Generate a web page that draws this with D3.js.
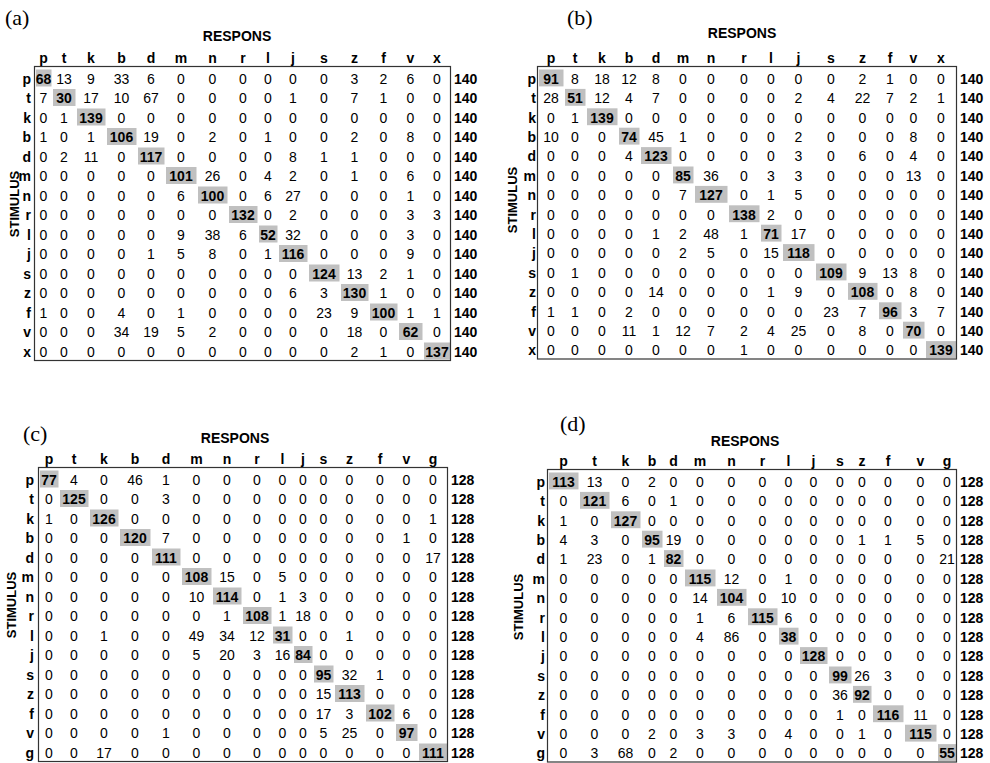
<!DOCTYPE html>
<html>
<head>
<meta charset="utf-8">
<script src="https://cdn.jsdelivr.net/npm/d3@7"></script>
<style>
  body { margin: 0; background: #fff; }
  svg text { font-family: "Liberation Sans", Arial, sans-serif; fill: #000; }
</style>
</head>
<body>
<div id="chart"></div>
<script>
// Stimulus / response phoneme sets
const phonemesAB = ["p", "t", "k", "b", "d", "m", "n", "r", "l", "j", "s", "z", "f", "v", "x"];
const phonemesCD = ["p", "t", "k", "b", "d", "m", "n", "r", "l", "j", "s", "z", "f", "v", "g"];

// Confusion counts, one row per stimulus
const matrixA = [
  [68, 13, 9, 33, 6, 0, 0, 0, 0, 0, 0, 3, 2, 6, 0],
  [7, 30, 17, 10, 67, 0, 0, 0, 0, 1, 0, 7, 1, 0, 0],
  [0, 1, 139, 0, 0, 0, 0, 0, 0, 0, 0, 0, 0, 0, 0],
  [1, 0, 1, 106, 19, 0, 2, 0, 1, 0, 0, 2, 0, 8, 0],
  [0, 2, 11, 0, 117, 0, 0, 0, 0, 8, 1, 1, 0, 0, 0],
  [0, 0, 0, 0, 0, 101, 26, 0, 4, 2, 0, 1, 0, 6, 0],
  [0, 0, 0, 0, 0, 6, 100, 0, 6, 27, 0, 0, 0, 1, 0],
  [0, 0, 0, 0, 0, 0, 0, 132, 0, 2, 0, 0, 0, 3, 3],
  [0, 0, 0, 0, 0, 9, 38, 6, 52, 32, 0, 0, 0, 3, 0],
  [0, 0, 0, 0, 1, 5, 8, 0, 1, 116, 0, 0, 0, 9, 0],
  [0, 0, 0, 0, 0, 0, 0, 0, 0, 0, 124, 13, 2, 1, 0],
  [0, 0, 0, 0, 0, 0, 0, 0, 0, 6, 3, 130, 1, 0, 0],
  [1, 0, 0, 4, 0, 1, 0, 0, 0, 0, 23, 9, 100, 1, 1],
  [0, 0, 0, 34, 19, 5, 2, 0, 0, 0, 0, 18, 0, 62, 0],
  [0, 0, 0, 0, 0, 0, 0, 0, 0, 0, 0, 2, 1, 0, 137]
];

const matrixB = [
  [91, 8, 18, 12, 8, 0, 0, 0, 0, 0, 0, 2, 1, 0, 0],
  [28, 51, 12, 4, 7, 0, 0, 0, 0, 2, 4, 22, 7, 2, 1],
  [0, 1, 139, 0, 0, 0, 0, 0, 0, 0, 0, 0, 0, 0, 0],
  [10, 0, 0, 74, 45, 1, 0, 0, 0, 2, 0, 0, 0, 8, 0],
  [0, 0, 0, 4, 123, 0, 0, 0, 0, 3, 0, 6, 0, 4, 0],
  [0, 0, 0, 0, 0, 85, 36, 0, 3, 3, 0, 0, 0, 13, 0],
  [0, 0, 0, 0, 0, 7, 127, 0, 1, 5, 0, 0, 0, 0, 0],
  [0, 0, 0, 0, 0, 0, 0, 138, 2, 0, 0, 0, 0, 0, 0],
  [0, 0, 0, 0, 1, 2, 48, 1, 71, 17, 0, 0, 0, 0, 0],
  [0, 0, 0, 0, 0, 2, 5, 0, 15, 118, 0, 0, 0, 0, 0],
  [0, 1, 0, 0, 0, 0, 0, 0, 0, 0, 109, 9, 13, 8, 0],
  [0, 0, 0, 0, 14, 0, 0, 0, 1, 9, 0, 108, 0, 8, 0],
  [1, 1, 0, 2, 0, 0, 0, 0, 0, 0, 23, 7, 96, 3, 7],
  [0, 0, 0, 11, 1, 12, 7, 2, 4, 25, 0, 8, 0, 70, 0],
  [0, 0, 0, 0, 0, 0, 0, 1, 0, 0, 0, 0, 0, 0, 139]
];

const matrixC = [
  [77, 4, 0, 46, 1, 0, 0, 0, 0, 0, 0, 0, 0, 0, 0],
  [0, 125, 0, 0, 3, 0, 0, 0, 0, 0, 0, 0, 0, 0, 0],
  [1, 0, 126, 0, 0, 0, 0, 0, 0, 0, 0, 0, 0, 0, 1],
  [0, 0, 0, 120, 7, 0, 0, 0, 0, 0, 0, 0, 0, 1, 0],
  [0, 0, 0, 0, 111, 0, 0, 0, 0, 0, 0, 0, 0, 0, 17],
  [0, 0, 0, 0, 0, 108, 15, 0, 5, 0, 0, 0, 0, 0, 0],
  [0, 0, 0, 0, 0, 10, 114, 0, 1, 3, 0, 0, 0, 0, 0],
  [0, 0, 0, 0, 0, 0, 1, 108, 1, 18, 0, 0, 0, 0, 0],
  [0, 0, 1, 0, 0, 49, 34, 12, 31, 0, 0, 1, 0, 0, 0],
  [0, 0, 0, 0, 0, 5, 20, 3, 16, 84, 0, 0, 0, 0, 0],
  [0, 0, 0, 0, 0, 0, 0, 0, 0, 0, 95, 32, 1, 0, 0],
  [0, 0, 0, 0, 0, 0, 0, 0, 0, 0, 15, 113, 0, 0, 0],
  [0, 0, 0, 0, 0, 0, 0, 0, 0, 0, 17, 3, 102, 6, 0],
  [0, 0, 0, 0, 1, 0, 0, 0, 0, 0, 5, 25, 0, 97, 0],
  [0, 0, 17, 0, 0, 0, 0, 0, 0, 0, 0, 0, 0, 0, 111]
];

const matrixD = [
  [113, 13, 0, 2, 0, 0, 0, 0, 0, 0, 0, 0, 0, 0, 0],
  [0, 121, 6, 0, 1, 0, 0, 0, 0, 0, 0, 0, 0, 0, 0],
  [1, 0, 127, 0, 0, 0, 0, 0, 0, 0, 0, 0, 0, 0, 0],
  [4, 3, 0, 95, 19, 0, 0, 0, 0, 0, 0, 1, 1, 5, 0],
  [1, 23, 0, 1, 82, 0, 0, 0, 0, 0, 0, 0, 0, 0, 21],
  [0, 0, 0, 0, 0, 115, 12, 0, 1, 0, 0, 0, 0, 0, 0],
  [0, 0, 0, 0, 0, 14, 104, 0, 10, 0, 0, 0, 0, 0, 0],
  [0, 0, 0, 0, 0, 1, 6, 115, 6, 0, 0, 0, 0, 0, 0],
  [0, 0, 0, 0, 0, 4, 86, 0, 38, 0, 0, 0, 0, 0, 0],
  [0, 0, 0, 0, 0, 0, 0, 0, 0, 128, 0, 0, 0, 0, 0],
  [0, 0, 0, 0, 0, 0, 0, 0, 0, 0, 99, 26, 3, 0, 0],
  [0, 0, 0, 0, 0, 0, 0, 0, 0, 0, 36, 92, 0, 0, 0],
  [0, 0, 0, 0, 0, 0, 0, 0, 0, 0, 1, 0, 116, 11, 0],
  [0, 0, 0, 2, 0, 3, 3, 0, 4, 0, 0, 1, 0, 115, 0],
  [0, 3, 68, 0, 2, 0, 0, 0, 0, 0, 0, 0, 0, 0, 55]
];

// Panel layout (the tables have uneven, spreadsheet-style column widths)
const panels = [
  { label: "(a)", phonemes: phonemesAB, counts: matrixA,
    left: 35, colWidths: [17, 24, 30, 31, 28, 32, 31, 30, 20, 30, 32, 29, 29, 25, 28],
    top: 66.5, bottom: 360.5, labelX: 5, labelY: 25, titleX: 237, titleY: 41,
    stimX: 14, stimY: 204, rowLabelX: 31 },
  { label: "(b)", phonemes: phonemesAB, counts: matrixB,
    left: 538, colWidths: [26, 22, 32, 22, 32, 22, 34, 32, 22, 33, 32, 31, 24, 23, 32],
    top: 66.5, bottom: 359, labelX: 567, labelY: 25, titleX: 742, titleY: 38,
    stimX: 512, stimY: 200, rowLabelX: 536 },
  { label: "(c)", phonemes: phonemesCD, counts: matrixC,
    left: 39, colWidths: [20, 30, 30, 32, 30, 31, 30, 30, 21, 20, 21, 31, 30, 23, 30],
    top: 467.5, bottom: 761.5, labelX: 23, labelY: 441, titleX: 235, titleY: 443,
    stimX: 11, stimY: 605, rowLabelX: 34 },
  { label: "(d)", phonemes: phonemesCD, counts: matrixD,
    left: 548, colWidths: [31, 31, 31, 22, 21, 32, 31, 31, 21, 29, 24, 20, 32, 33, 20],
    top: 469.5, bottom: 762, labelX: 560, labelY: 431, titleX: 745, titleY: 446,
    stimX: 518, stimY: 607, rowLabelX: 545 }
];

const svg = d3.select("#chart").append("svg")
    .attr("width", 990)
    .attr("height", 763);

panels.forEach(p => drawPanel(p));

function drawPanel(p) {
  const g = svg.append("g");
  const edges = [p.left].concat(Array.from(d3.cumsum(p.colWidths), c => p.left + c));
  const right = edges[edges.length - 1];

  // column scales: left edge and width per response
  const x = d3.scaleOrdinal().domain(p.phonemes).range(edges.slice(0, -1));
  const w = d3.scaleOrdinal().domain(p.phonemes).range(p.colWidths);
  // rows: one band per stimulus
  const y = d3.scaleBand().domain(p.phonemes).range([p.top + 1.5, p.bottom]);

  const cells = [];
  p.counts.forEach((row, i) => row.forEach((v, j) => {
    cells.push({ stim: p.phonemes[i], resp: p.phonemes[j], value: v, diag: i === j });
  }));

  // gray diagonal cells
  g.selectAll(".diag")
    .data(cells.filter(d => d.diag))
    .enter().append("rect")
      .attr("class", "diag")
      .attr("x", d => x(d.resp) + 1)
      .attr("y", d => y(d.stim) + 1.5)
      .attr("width", d => w(d.resp) - 1.5)
      .attr("height", y.bandwidth() - 2.5)
      .attr("fill", "#c0c0c0");

  // table box
  g.append("rect")
    .attr("x", p.left - 0.5)
    .attr("y", p.top)
    .attr("width", right - p.left)
    .attr("height", p.bottom - p.top)
    .attr("fill", "none")
    .attr("stroke", "#333")
    .attr("stroke-width", 1.2);

  // cell counts
  g.selectAll(".cell")
    .data(cells)
    .enter().append("text")
      .attr("class", "cell")
      .attr("x", d => x(d.resp) + w(d.resp) / 2)
      .attr("y", d => y(d.stim) + y.bandwidth() / 2 + 1)
      .attr("dy", "0.36em")
      .attr("text-anchor", "middle")
      .attr("font-size", 14)
      .attr("font-weight", d => d.diag ? "bold" : "normal")
      .text(d => d.value);

  // response labels on top
  g.selectAll(".colLabel")
    .data(p.phonemes)
    .enter().append("text")
      .attr("class", "colLabel")
      .attr("x", d => x(d) + w(d) / 2)
      .attr("y", p.top - 3.5)
      .attr("text-anchor", "middle")
      .attr("font-size", 14)
      .attr("font-weight", "bold")
      .text(d => d);

  // stimulus labels on the left
  g.selectAll(".rowLabel")
    .data(p.phonemes)
    .enter().append("text")
      .attr("class", "rowLabel")
      .attr("x", p.rowLabelX)
      .attr("y", d => y(d) + y.bandwidth() / 2 + 1)
      .attr("dy", "0.36em")
      .attr("text-anchor", "end")
      .attr("font-size", 14)
      .attr("font-weight", "bold")
      .text(d => d);

  // row totals on the right
  g.selectAll(".total")
    .data(p.counts)
    .enter().append("text")
      .attr("class", "total")
      .attr("x", right + 3)
      .attr("y", (d, i) => y(p.phonemes[i]) + y.bandwidth() / 2 + 1)
      .attr("dy", "0.36em")
      .attr("font-size", 14)
      .attr("font-weight", "bold")
      .text(d => d3.sum(d));

  g.append("text")
    .attr("x", p.titleX)
    .attr("y", p.titleY)
    .attr("text-anchor", "middle")
    .attr("font-size", 14)
    .attr("font-weight", "bold")
    .text("RESPONS");

  g.append("text")
    .attr("transform", `translate(${p.stimX},${p.stimY}) rotate(-90)`)
    .attr("dy", "0.36em")
    .attr("text-anchor", "middle")
    .attr("font-size", 13)
    .attr("font-weight", "bold")
    .text("STIMULUS");

  g.append("text")
    .attr("x", p.labelX)
    .attr("y", p.labelY)
    .style("font-family", "'Liberation Serif', 'Times New Roman', serif")
    .attr("font-size", 22)
    .text(p.label);
}
</script>
</body>
</html>
